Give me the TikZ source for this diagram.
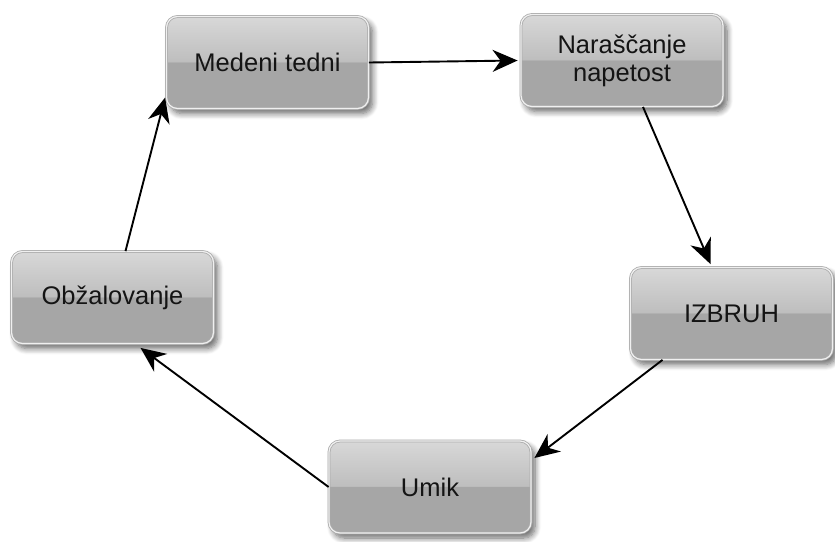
\documentclass[tikz,border=0pt]{standalone}
\usepackage{fontspec}
\setmainfont{Liberation Sans}
\usetikzlibrary{arrows.meta,shadows.blur}
\definecolor{lowc}{HTML}{A6A6A6}
\definecolor{midc}{HTML}{BEBEBE}
\definecolor{topc}{HTML}{D8D8D8}
\definecolor{rimc}{HTML}{ABABAB}
\definecolor{rimin}{HTML}{F0F0F0}
\definecolor{txtc}{HTML}{141414}
\pgfdeclareverticalshading{glossy}{100bp}{color(0bp)=(lowc); color(50bp)=(lowc); color(50.6bp)=(midc); color(75bp)=(topc); color(100bp)=(topc)}
\tikzset{
  box/.style={rounded corners=11pt, shading=glossy, draw=rimc, double=rimin,
    line width=0.8pt, double distance=1.2pt,
    minimum width=202pt, minimum height=92pt, inner sep=2pt,
    align=center, text=txtc,
    font=\fontsize{25.5pt}{28pt}\selectfont,
    blur shadow={shadow xshift=4pt, shadow yshift=-5pt, shadow blur radius=6pt, shadow blur steps=8, shadow opacity=60}},
  conn/.style={line width=1.9pt, black, -{Stealth[length=25pt,width=22pt,inset=8pt]}}
}
\begin{document}
\begin{tikzpicture}[x=1pt,y=-1pt]
\useasboundingbox (0,0) rectangle (835,541);
\node[box] (M) at (267.5,62.5) {Medeni tedni};
\node[box] (N) at (622,60.5) {Naraščanje\\napetost};
\node[box] (I) at (731.5,313.5) {IZBRUH};
\node[box] (U) at (430,487) {Umik};
\node[box] (O) at (112.5,297.5) {Obžalovanje};
\draw[conn] (M.east) -- ([xshift=-3pt]N.west);
\draw[conn] ([xshift=21pt]N.south) -- ([xshift=-21pt,yshift=3pt]I.north);
\draw[conn] ([xshift=-69pt]I.south) -- ([xshift=3pt,yshift=29pt]U.east);
\draw[conn] (U.west) -- ([xshift=28pt,yshift=-4pt]O.south);
\draw[conn] ([xshift=13pt]O.north) -- ([xshift=-1pt,yshift=-35pt]M.west);
\end{tikzpicture}
\end{document}
